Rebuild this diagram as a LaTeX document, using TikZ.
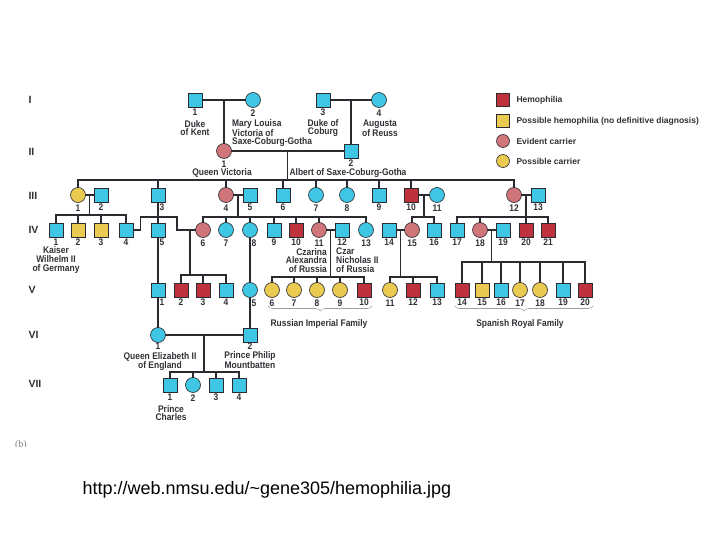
\documentclass[tikz,border=0pt]{standalone}
\usepackage{fontspec}
\setmainfont{Liberation Sans}
\newfontfamily\cond[FakeStretch=0.88]{Liberation Sans}
\newfontfamily\serf{Liberation Serif}
\usepackage{tikz}
\usetikzlibrary{calc,decorations.pathreplacing}
\definecolor{bu}{RGB}{62,198,228}
\definecolor{rd}{RGB}{190,50,62}
\definecolor{ye}{RGB}{234,202,80}
\definecolor{pk}{RGB}{208,118,122}
\definecolor{ln}{RGB}{42,42,48}
\definecolor{tx}{RGB}{48,48,54}
\newcommand{\NM}{\cond\bfseries\fontsize{9.6}{8.6}\selectfont}
\newcommand{\KEY}{\bfseries\fontsize{8.5}{9}\selectfont}

\tikzset{
  sq/.style={draw=ln,line width=0.6pt,minimum size=14pt,inner sep=0pt},
  ci/.style={circle,draw=ln,line width=0.6pt,minimum size=15pt,inner sep=0pt},
  num/.style={font=\NM,text=tx,inner sep=0pt,align=center},
  tie/.style={draw=ln,line width=1.3pt,line cap=rect},
  gen/.style={font=\bfseries\fontsize{10.5}{11}\selectfont,text=tx},
  brc/.style={decorate,decoration={brace,mirror,amplitude=5pt},draw=gray!75,line width=0.6pt},
}

\begin{document}
\begin{tikzpicture}[x=1pt,y=-1pt,label distance=1.5pt]
  \useasboundingbox (0,0) rectangle (720,540);

  % generations
  \foreach \g/\yy in {I/100,II/152,III/196,IV/230,V/290,VI/335,VII/384}
    \node[gen,anchor=west] (gen\g) at (25,\yy) {\g};

  % I
  \node[sq,fill=bu,label={[num]below:1}] (a1) at (195,100) {};
  \node[ci,fill=bu,label={[num]below:2}] (a2) at (253,100) {};
  \node[sq,fill=bu,label={[num]below:3}] (a3) at (323,100) {};
  \node[ci,fill=bu,label={[num]below:4}] (a4) at (379,100) {};
  \node[num] (a1n) at (195,128) {Duke\\of Kent};
  \node[num,anchor=north west,align=left] (a2n) at (232,119) {Mary Louisa\\Victoria of\\Saxe-Coburg-Gotha};
  \node[num] (a3n) at (323,128) {Duke of\\Coburg};
  \node[num] (a4n) at (380,128) {Augusta\\of Reuss};

  % II
  \node[ci,fill=pk,label={[num]below:1}] (b1) at (224,151) {};
  \node[sq,fill=bu,label={[num]below:2}] (b2) at (351,151) {};
  \node[num] (b1n) at (222,173) {Queen Victoria};
  \node[num] (b2n) at (348,173) {Albert of Saxe-Coburg-Gotha};

  % III
  \node[ci,fill=ye,label={[num]below:1}] (c1) at (78,195) {};
  \node[sq,fill=bu,label={[num]below:2}] (c2) at (101,195) {};
  \node[sq,fill=bu,label={[num,xshift=4pt]below:3}] (c3) at (158,195) {};
  \node[ci,fill=pk,label={[num]below:4}] (c4) at (226,195) {};
  \node[sq,fill=bu,label={[num]below:5}] (c5) at (250,195) {};
  \node[sq,fill=bu,label={[num]below:6}] (c6) at (283,195) {};
  \node[ci,fill=bu,label={[num]below:7}] (c7) at (316,195) {};
  \node[ci,fill=bu,label={[num]below:8}] (c8) at (347,195) {};
  \node[sq,fill=bu,label={[num]below:9}] (c9) at (379,195) {};
  \node[sq,fill=rd,label={[num]below:10}] (c10) at (411,195) {};
  \node[ci,fill=bu,label={[num]below:11}] (c11) at (437,195) {};
  \node[ci,fill=pk,label={[num]below:12}] (c12) at (514,195) {};
  \node[sq,fill=bu,label={[num]below:13}] (c13) at (538,195) {};

  % IV
  \node[sq,fill=bu,label={[num]below:1}] (d1) at (56,230) {};
  \node[sq,fill=ye,label={[num]below:2}] (d2) at (78,230) {};
  \node[sq,fill=ye,label={[num]below:3}] (d3) at (101,230) {};
  \node[sq,fill=bu,label={[num]below:4}] (d4) at (126,230) {};
  \node[sq,fill=bu,label={[num,xshift=4pt]below:5}] (d5) at (158,230) {};
  \node[ci,fill=pk,label={[num]below:6}] (d6) at (203,230) {};
  \node[ci,fill=bu,label={[num]below:7}] (d7) at (226,230) {};
  \node[ci,fill=bu,label={[num,xshift=4pt]below:8}] (d8) at (250,230) {};
  \node[sq,fill=bu,label={[num]below:9}] (d9) at (274,230) {};
  \node[sq,fill=rd,label={[num]below:10}] (d10) at (296,230) {};
  \node[ci,fill=pk,label={[num]below:11}] (d11) at (319,230) {};
  \node[sq,fill=bu,label={[num]below:12}] (d12) at (342,230) {};
  \node[ci,fill=bu,label={[num]below:13}] (d13) at (366,230) {};
  \node[sq,fill=bu,label={[num]below:14}] (d14) at (389,230) {};
  \node[ci,fill=pk,label={[num]below:15}] (d15) at (412,230) {};
  \node[sq,fill=bu,label={[num]below:16}] (d16) at (434,230) {};
  \node[sq,fill=bu,label={[num]below:17}] (d17) at (457,230) {};
  \node[ci,fill=pk,label={[num]below:18}] (d18) at (480,230) {};
  \node[sq,fill=bu,label={[num]below:19}] (d19) at (503,230) {};
  \node[sq,fill=rd,label={[num]below:20}] (d20) at (526,230) {};
  \node[sq,fill=rd,label={[num]below:21}] (d21) at (548,230) {};
  \node[num] (d1n) at (56,260) {Kaiser\\Wilhelm II\\of Germany};
  \node[num,anchor=north east,align=right] (d11n) at (327,248) {Czarina\\Alexandra\\of Russia};
  \node[num,anchor=north west,align=left] (d12n) at (336,248) {Czar\\Nicholas II\\of Russia};

  % V
  \node[sq,fill=bu,label={[num,xshift=4pt]below:1}] (e1) at (158,290) {};
  \node[sq,fill=rd,label={[num]below:2}] (e2) at (181,290) {};
  \node[sq,fill=rd,label={[num]below:3}] (e3) at (203,290) {};
  \node[sq,fill=bu,label={[num]below:4}] (e4) at (226,290) {};
  \node[ci,fill=bu,label={[num,xshift=4pt]below:5}] (e5) at (250,290) {};
  \node[ci,fill=ye,label={[num]below:6}] (e6) at (272,290) {};
  \node[ci,fill=ye,label={[num]below:7}] (e7) at (294,290) {};
  \node[ci,fill=ye,label={[num]below:8}] (e8) at (317,290) {};
  \node[ci,fill=ye,label={[num]below:9}] (e9) at (340,290) {};
  \node[sq,fill=rd,label={[num]below:10}] (e10) at (364,290) {};
  \node[ci,fill=ye,label={[num]below:11}] (e11) at (390,290) {};
  \node[sq,fill=rd,label={[num]below:12}] (e12) at (413,290) {};
  \node[sq,fill=bu,label={[num]below:13}] (e13) at (437,290) {};
  \node[sq,fill=rd,label={[num]below:14}] (e14) at (462,290) {};
  \node[sq,fill=ye,label={[num]below:15}] (e15) at (482,290) {};
  \node[sq,fill=bu,label={[num]below:16}] (e16) at (501,290) {};
  \node[ci,fill=ye,label={[num]below:17}] (e17) at (520,290) {};
  \node[ci,fill=ye,label={[num]below:18}] (e18) at (540,290) {};
  \node[sq,fill=bu,label={[num]below:19}] (e19) at (563,290) {};
  \node[sq,fill=rd,label={[num]below:20}] (e20) at (585,290) {};
  \draw[brc] ($(e6.west)+(4,16)$) -- ($(e10.east)+(1,16)$);
  \draw[brc] ($(e14.west)+(0,16)$) -- ($(e20.east)+(1,16)$);
  \node[num] (rusn) at (319,324) {Russian Imperial Family};
  \node[num] (spn) at (520,324) {Spanish Royal Family};

  % VI, VII
  \node[ci,fill=bu,label={[num,label distance=0pt]below:1}] (f1) at (158,335) {};
  \node[sq,fill=bu,label={[num,label distance=0pt]below:2}] (f2) at (250,335) {};
  \node[num] (f1n) at (160,361.5) {Queen Elizabeth II\\of England};
  \node[num] (f2n) at (250,360.5) {Prince Philip\\Mountbatten};
  \node[sq,fill=bu,label={[num]below:1}] (g1) at (170,385) {};
  \node[ci,fill=bu,label={[num]below:2}] (g2) at (193,385) {};
  \node[sq,fill=bu,label={[num]below:3}] (g3) at (216,385) {};
  \node[sq,fill=bu,label={[num]below:4}] (g4) at (239,385) {};
  \node[num] (g1n) at (171,413) {Prince\\Charles};

  % lines I-II-III
  \draw[tie] (a1) -- (a2);
  \draw[tie] (a3) -- (a4);
  \coordinate (am1) at ($(a1)!0.5!(a2)$);
  \coordinate (am3) at ($(a3)!0.5!(a4)$);
  \draw[tie] (am1) -- (b1);
  \draw[tie] (am3) -- (b2);
  \draw[tie] (b1) -- (b2);
  \coordinate (bm1) at ($(b1)!0.5!(b2)$);
  \coordinate (s3) at (0,180);
  \draw[tie] (bm1) -- (bm1 |- s3);
  \draw[tie] (c1 |- s3) -- (c12 |- s3);
  \foreach \k in {1,3,4,6,7,8,9,10,12}
    \draw[tie] (c\k |- s3) -- (c\k);

  % lines III-IV
  \draw[tie] (c1) -- (c2);
  \draw[tie] (c4) -- (c5);
  \draw[tie] (c10) -- (c11);
  \draw[tie] (c12) -- (c13);
  \coordinate (s4a) at (0,215);
  \coordinate (s4b) at (0,217);
  \coordinate (cm1) at ($(c1)!0.5!(c2)$);
  \coordinate (cm4) at ($(c4)!0.5!(c5)$);
  \coordinate (cm10) at ($(c10)!0.5!(c11)$);
  \coordinate (cm12) at ($(c12)!0.5!(c13)$);
  \draw[tie] (cm1) -- (cm1 |- s4a);
  \draw[tie] (d1 |- s4a) -- (d4 |- s4a);
  \foreach \k in {1,...,4}
    \draw[tie] (d\k |- s4a) -- (d\k);
  \draw[tie] (c3) -- (d5);
  \draw[tie] (cm4) -- (cm4 |- s4b);
  \draw[tie] (d6 |- s4b) -- (d13 |- s4b);
  \foreach \k in {6,7,8,9,10,11,13}
    \draw[tie] (d\k |- s4b) -- (d\k);
  \draw[tie] (cm10) -- (cm10 |- s4b);
  \draw[tie] (d15 |- s4b) -- (d16 |- s4b);
  \foreach \k in {15,16}
    \draw[tie] (d\k |- s4b) -- (d\k);
  \draw[tie] (cm12) -- (cm12 |- s4b);
  \draw[tie] (d17 |- s4b) -- (d21 |- s4b);
  \foreach \k in {17,18,20,21}
    \draw[tie] (d\k |- s4b) -- (d\k);

  % lines IV-V
  \coordinate (dk) at (177,217);
  \coordinate (dm4) at (190,230);
  \draw[tie] (d4.east) -- ++(7,0) |- (dk) |- (d6.west);
  \draw[tie] (d11) -- (d12);
  \draw[tie] (d14) -- (d15);
  \draw[tie] (d18) -- (d19);
  \coordinate (s5a) at (0,275);
  \coordinate (s5b) at (0,277);
  \coordinate (s5c) at (0,262);
  \coordinate (dm11) at ($(d11)!0.5!(d12)$);
  \coordinate (dm14) at ($(d14)!0.5!(d15)$);
  \coordinate (dm18) at ($(d18)!0.5!(d19)$);
  \draw[tie] (d5) -- (e1);
  \draw[tie] (d8) -- (e5);
  \draw[tie] (dm4) -- (dm4 |- s5a);
  \draw[tie] (e2 |- s5a) -- (e4 |- s5a);
  \foreach \k in {2,3,4}
    \draw[tie] (e\k |- s5a) -- (e\k);
  \draw[tie] (dm11) -- (dm11 |- s5b);
  \draw[tie] (e6 |- s5b) -- (e10 |- s5b);
  \foreach \k in {6,...,10}
    \draw[tie] (e\k |- s5b) -- (e\k);
  \draw[tie] (dm14) -- (dm14 |- s5b);
  \draw[tie] (e11 |- s5b) -- (e13 |- s5b);
  \foreach \k in {11,12,13}
    \draw[tie] (e\k |- s5b) -- (e\k);
  \draw[tie] (dm18) -- (dm18 |- s5c);
  \draw[tie] (e14 |- s5c) -- (e20 |- s5c);
  \foreach \k in {14,...,20}
    \draw[tie] (e\k |- s5c) -- (e\k);

  % lines V-VI-VII
  \draw[tie] (e1) -- (f1);
  \draw[tie] (e5) -- (f2);
  \draw[tie] (f1) -- (f2);
  \coordinate (fm1) at ($(f1)!0.5!(f2)$);
  \coordinate (s7) at (0,372);
  \draw[tie] (fm1) -- (fm1 |- s7);
  \draw[tie] (g1 |- s7) -- (g4 |- s7);
  \foreach \k in {1,...,4}
    \draw[tie] (g\k |- s7) -- (g\k);

  % key
  \node[sq,fill=rd,minimum size=13pt] (k1) at (503,100) {};
  \node[sq,fill=ye,minimum size=13pt] (k2) at (503,121) {};
  \node[ci,fill=pk,minimum size=13pt] (k3) at (503,141) {};
  \node[ci,fill=ye,minimum size=13pt] (k4) at (503,161) {};
  \node[anchor=west,font=\KEY,text=tx] (k1t) at (513,100) {Hemophilia};
  \node[anchor=west,font=\KEY,text=tx] (k2t) at (513,121) {Possible hemophilia (no definitive diagnosis)};
  \node[anchor=west,font=\KEY,text=tx] (k3t) at (513,141) {Evident carrier};
  \node[anchor=west,font=\KEY,text=tx] (k4t) at (513,161) {Possible carrier};

  \begin{scope}
    \clip (0,0) rectangle (720,446);
    \node[font=\serf\fontsize{10}{10}\selectfont,text=gray] (tag) at (21,445) {(b)};
  \end{scope}

  \node[anchor=west,font=\fontsize{18}{20}\selectfont] (url) at (79,490) {http://web.nmsu.edu/\textasciitilde gene305/hemophilia.jpg};
\end{tikzpicture}
\end{document}
